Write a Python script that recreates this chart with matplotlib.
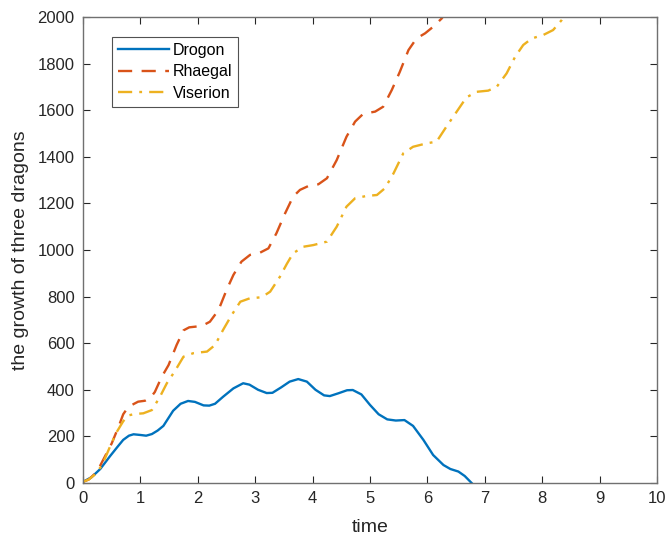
import matplotlib
matplotlib.use('agg')
import matplotlib.pyplot as plt

plt.rcParams['font.family'] = ['Liberation Sans', 'DejaVu Sans']

# Drogon
t_drogon = [0.0, 0.15, 0.3, 0.47, 0.6, 0.7, 0.8, 0.88, 1.0, 1.1, 1.2, 1.3, 1.4,
            1.57, 1.7, 1.83, 1.95, 2.1, 2.2, 2.3, 2.44, 2.62, 2.79, 2.9, 3.05,
            3.2, 3.3, 3.45, 3.6, 3.75, 3.9, 4.05, 4.2, 4.3, 4.45, 4.6, 4.7,
            4.85, 5.0, 5.15, 5.3, 5.45, 5.6, 5.75, 5.93, 6.1, 6.28, 6.4, 6.54,
            6.65, 6.77]
y_drogon = [5, 25, 60, 115, 155, 185, 203, 209, 206, 203, 210, 225, 245,
            310, 340, 352, 348, 333, 332, 340, 370, 406, 428, 422, 400,
            386, 387, 410, 435, 446, 435, 400, 376, 373, 385, 398, 399,
            380, 335, 295, 273, 268, 270, 245, 185, 120, 77, 60, 49,
            30, 0]

# Rhaegal
t_rhaegal = [0.0, 0.1, 0.21, 0.3, 0.38, 0.5, 0.62, 0.7, 0.79, 0.96, 1.08, 1.18,
             1.25, 1.37, 1.49, 1.63, 1.75, 1.85, 2.07, 2.21, 2.36, 2.5, 2.62,
             2.76, 2.91, 3.08, 3.23, 3.37, 3.52, 3.66, 3.78, 3.93, 4.1, 4.25,
             4.42, 4.59, 4.74, 4.88, 5.09, 5.23, 5.38, 5.52, 5.67, 5.81, 5.96,
             6.1, 6.25, 6.35]
y_rhaegal = [5, 15, 40, 75, 113, 170, 242, 295, 327, 349, 353, 368,
             390, 455, 506, 592, 655, 668, 674, 692, 742, 828, 893,
             950, 979, 988, 1007, 1072, 1157, 1229, 1258, 1275, 1282, 1308,
             1386, 1486, 1551, 1584, 1594, 1615, 1687, 1765, 1858, 1908, 1930,
             1958, 1994, 2030]

# Viserion
t_viserion = [0.0, 0.1, 0.2, 0.33, 0.47, 0.59, 0.7, 0.79, 0.9, 1.05, 1.2, 1.34,
              1.46, 1.6, 1.75, 1.92, 2.16, 2.3, 2.44, 2.59, 2.74, 2.91, 3.11,
              3.26, 3.43, 3.55, 3.66, 3.84, 4.01, 4.25, 4.42, 4.59, 4.74, 4.94,
              5.12, 5.26, 5.41, 5.58, 5.75, 5.99, 6.16, 6.33, 6.5, 6.68, 6.86,
              7.06, 7.21, 7.38, 7.53, 7.67, 7.82, 8.02, 8.19, 8.34, 8.42]
y_viserion = [5, 15, 35, 75, 156, 220, 265, 290, 296, 299, 313, 370,
              428, 480, 542, 557, 564, 592, 657, 721, 778, 793, 797,
              821, 885, 940, 986, 1014, 1021, 1036, 1100, 1186, 1222, 1232,
              1236, 1265, 1329, 1415, 1443, 1458, 1465, 1529, 1590, 1655, 1679,
              1684, 1701, 1758, 1830, 1880, 1908, 1923, 1944, 1987, 2020]

fig = plt.figure(figsize=(6.68, 5.4), dpi=100)
ax = fig.add_axes([0.1243, 0.1056, 0.8592, 0.8629])

ax.plot(t_drogon, y_drogon, '-', color='#0072BD', lw=1.7, label='Drogon')
ax.plot(t_rhaegal, y_rhaegal, '--', color='#D95319', lw=1.7,
        dashes=(6, 4), label='Rhaegal')
ax.plot(t_viserion, y_viserion, '-.', color='#EDB120', lw=1.7,
        dashes=(6, 3, 1.2, 3), label='Viserion')

ax.set_xlim(0, 10)
ax.set_ylim(0, 2000)
ax.set_xticks(range(0, 11))
ax.set_yticks(range(0, 2001, 200))

ax.tick_params(direction='in', length=5, width=0.8, labelsize=12, pad=6,
               colors='#262626', top=True, right=True)
for s in ax.spines.values():
    s.set_color('#707070')
    s.set_linewidth(1.0)

ax.set_xlabel('time', fontsize=14, color='#262626', labelpad=9)
ax.set_ylabel('the growth of three dragons', fontsize=14, color='#262626',
              labelpad=6)

leg = ax.legend(loc='upper left', bbox_to_anchor=(0.05, 0.958),
                fontsize=11.5, fancybox=False, handlelength=3.2,
                borderaxespad=0, labelspacing=0.4, handletextpad=0.2)
leg.get_frame().set_edgecolor('#262626')
leg.get_frame().set_linewidth(0.8)

plt.savefig('out.png')
